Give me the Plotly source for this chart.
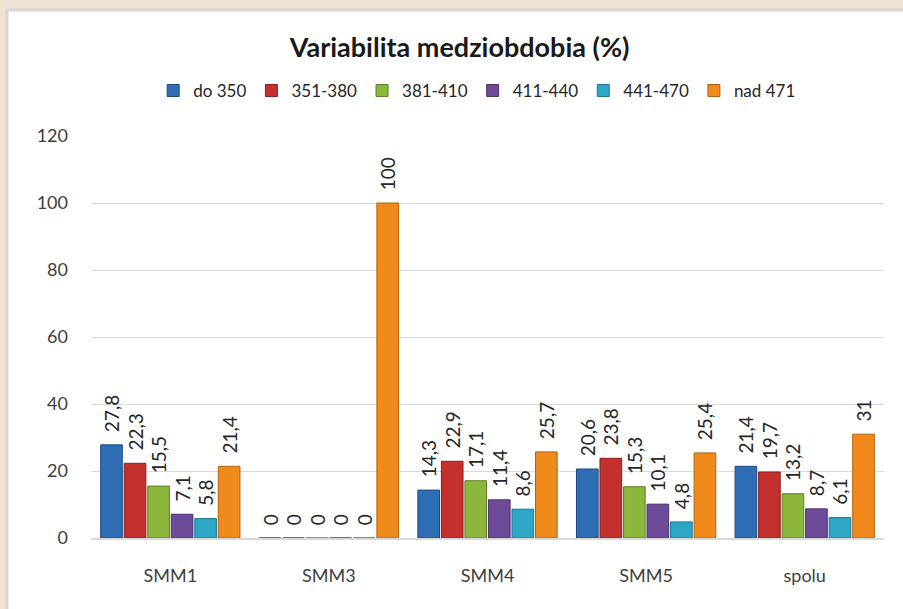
import plotly.graph_objects as go

categories = ["SMM1", "SMM3", "SMM4", "SMM5", "spolu"]
series_names = ["do 350", "351-380", "381-410", "411-440", "441-470", "nad 471"]

do_350 = [27.8, 0, 14.3, 20.6, 21.4]
r351_380 = [22.3, 0, 22.9, 23.8, 19.7]
r381_410 = [15.5, 0, 17.1, 15.3, 13.2]
r411_440 = [7.1, 0, 11.4, 10.1, 8.7]
r441_470 = [5.8, 0, 8.6, 4.8, 6.1]
nad_471 = [21.4, 100, 25.7, 25.4, 31]

y_ticks = [0, 20, 40, 60, 80, 100, 120]

series_values = [do_350, r351_380, r381_410, r411_440, r441_470, nad_471]
colors = ["#2f6db5", "#c3302e", "#8cb63c", "#6e4a9b", "#2ea6c6", "#f08a1d"]
edges = ["#1d4a80", "#8a1f1e", "#5f7d25", "#4a3169", "#1c7890", "#b0620f"]

FONT = "Lato, 'Open Sans', sans-serif"


def fmt(v):
    # comma as decimal separator; leading nbsp lifts the rotated label off the bar
    return "\u00a0\u00a0" + f"{v:g}".replace(".", ",")


fig = go.Figure()
for name, vals, col, edge in zip(series_names, series_values, colors, edges):
    fig.add_trace(go.Bar(
        x=categories,
        y=vals,
        name=name,
        marker=dict(color=col, line=dict(color=edge, width=1)),
        text=[fmt(v) for v in vals],
        textposition="outside",
        textangle=-90,
        constraintext="none",
        textfont=dict(family=FONT, size=19, color="#262626"),
        cliponaxis=False,
    ))

fig.update_layout(
    width=903,
    height=609,
    paper_bgcolor="#f1e3d3",
    plot_bgcolor="white",
    margin=dict(l=91, r=19, t=136, b=71),
    barmode="group",
    bargap=0.11,
    bargroupgap=0.08,
    font=dict(family=FONT, color="#404040"),
    title=dict(
        text="<b>Variabilita medziobdobia (%)</b>",
        x=0.509, xanchor="center",
        y=1 - 48 / 609, yanchor="middle",
        font=dict(family=FONT, size=27, color="#1a1a1a"),
    ),
    legend=dict(
        orientation="h",
        x=0.487, xanchor="center",
        y=1.112, yanchor="middle",
        font=dict(family=FONT, size=17, color="#262626"),
        itemwidth=30,
        traceorder="normal",
        bgcolor="rgba(0,0,0,0)",
    ),
    showlegend=True,
    shapes=[
        dict(type="rect", xref="paper", yref="paper",
             x0=-84 / 793, x1=1.2,
             y0=-0.3, y1=1 + 126 / 402,
             fillcolor="white", line=dict(color="#d6d6d6", width=3),
             layer="below"),
    ],
)

fig.update_xaxes(
    showgrid=False,
    showline=True, linecolor="#d9d9d9", linewidth=2,
    ticks="",
    tickfont=dict(family=FONT, size=18, color="#404040"),
    ticklabelstandoff=20,
)
fig.update_yaxes(
    range=[0, 120],
    tickvals=y_ticks,
    showgrid=True, gridcolor="#d9d9d9", gridwidth=1,
    zeroline=False,
    showline=False,
    ticks="",
    tickfont=dict(family=FONT, size=18, color="#404040"),
    ticklabelstandoff=22,
)

# the page body has a default 8px margin; drop it so the figure fills the window
fig.write_html("out.html", config={"displayModeBar": False},
               post_script="document.body.style.margin='0';")
